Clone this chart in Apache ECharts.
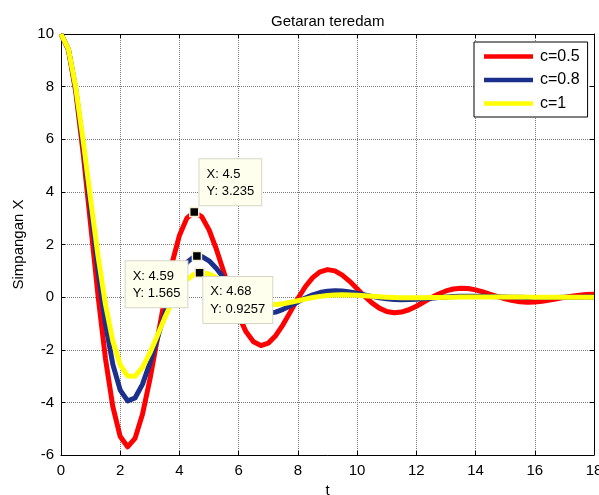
<!DOCTYPE html>
<html><head><meta charset="utf-8">
<script src="https://cdn.jsdelivr.net/npm/echarts@6/dist/echarts.min.js"></script>
<style>html,body{margin:0;padding:0;background:#fff}#c{width:599px;height:495px}</style>
</head><body><div id="c"></div>
<script>
const tValues = [0,0.25,0.5,0.75,1,1.25,1.5,1.75,2,2.25,2.5,2.75,3,3.25,3.5,3.75,4,4.25,4.5,4.75,5,5.25,5.5,5.75,6,6.25,6.5,6.75,7,7.25,7.5,7.75,8,8.25,8.5,8.75,9,9.25,9.5,9.75,10,10.25,10.5,10.75,11,11.25,11.5,11.75,12,12.25,12.5,12.75,13,13.25,13.5,13.75,14,14.25,14.5,14.75,15,15.25,15.5,15.75,16,16.25,16.5,16.75,17,17.25,17.5,17.75,18];
const red05 = [10.000,9.406,7.789,5.455,2.762,0.064,-2.325,-4.162,-5.300,-5.688,-5.368,-4.462,-3.144,-1.615,-0.078,1.288,2.343,3.002,3.234,3.063,2.556,1.811,0.943,0.068,-0.713,-1.319,-1.700,-1.839,-1.748,-1.464,-1.043,-0.551,-0.052,0.394,0.742,0.963,1.046,0.997,0.838,0.601,0.321,0.037,-0.218,-0.418,-0.545,-0.595,-0.569,-0.480,-0.346,-0.187,-0.026,0.120,0.235,0.309,0.338,0.325,0.275,0.199,0.109,0.017,-0.066,-0.132,-0.175,-0.192,-0.185,-0.157,-0.115,-0.064,-0.011,0.036,0.074,0.099,0.109];
const blue08 = [10.000,9.421,7.890,5.753,3.358,1.021,-1.008,-2.555,-3.536,-3.942,-3.833,-3.314,-2.517,-1.583,-0.640,0.203,0.871,1.320,1.540,1.547,1.379,1.087,0.727,0.350,0.002,-0.283,-0.485,-0.595,-0.619,-0.569,-0.465,-0.327,-0.177,-0.035,0.085,0.174,0.228,0.246,0.233,0.197,0.145,0.086,0.028,-0.022,-0.061,-0.086,-0.097,-0.095,-0.082,-0.063,-0.040,-0.017,0.004,0.021,0.032,0.038,0.038,0.034,0.027,0.018,0.009,0.000,-0.007,-0.012,-0.015,-0.015,-0.014,-0.012,-0.008,-0.005,-0.001,0.002,0.004];
const yellow1 = [10.000,9.430,7.954,5.934,3.711,1.573,-0.263,-1.665,-2.574,-3.001,-3.004,-2.678,-2.131,-1.472,-0.797,-0.185,0.313,0.666,0.868,0.930,0.877,0.740,0.552,0.345,0.146,-0.025,-0.155,-0.240,-0.279,-0.279,-0.249,-0.198,-0.137,-0.074,-0.017,0.029,0.062,0.081,0.087,0.082,0.069,0.051,0.032,0.014,-0.002,-0.014,-0.022,-0.026,-0.026,-0.023,-0.018,-0.013,-0.007,-0.002,0.003,0.006,0.008,0.008,0.008,0.006,0.005,0.003,0.001,0.000,-0.001,-0.002,-0.002,-0.002,-0.002,-0.002,-0.001,-0.001,0.000];
const seriesNames = ['c=0.5','c=0.8','c=1'];
const tipX = [4.5, 4.59, 4.68];
const tipY = [3.235, 1.565, 0.9257];
const xTicks = [0,2,4,6,8,10,12,14,16,18];
const yTicks = [-6,-4,-2,0,2,4,6,8,10];

const FONT = '"Liberation Sans", Arial, sans-serif';
const colors = ['#ff0000', '#1b2f8c', '#ffff00'];
const dataSets = [red05, blue08, yellow1];

function pairs(ys){ return tValues.map((t,i)=>[t, ys[i]]); }

const tipLabelPos = [
  [10.5,-47.5],
  [-66,10.5],
  [9,9.5]
];

const lineSeries = dataSets.map((d,i)=>({
  name: seriesNames[i], type:'line', data: pairs(d), showSymbol:false, symbol:'none',
  lineStyle:{color:colors[i], width:5, join:'round'}, itemStyle:{color:colors[i]},
  z: 2+i, silent:true, animation:false
}));

const tipSeries = {
  type:'scatter', z: 10, silent:true, animation:false,
  symbol:'rect', symbolSize:9,
  itemStyle:{color:'#000', borderColor:'#f3f0d0', borderWidth:1.5, opacity:1},
  data: tipX.map((x,i)=>({
    value:[x, tipY[i]],
    label:{
      show:true, formatter:'X: '+x+'\nY: '+tipY[i],
      position: tipLabelPos[i], align:'left', verticalAlign:'top',
      backgroundColor:'#ffffee', borderColor:'#d6d6c6', borderWidth:1,
      padding:[6,7,5,7], fontSize:13, lineHeight:17.5, color:'#000', fontFamily: FONT
    }
  }))
};

const chart = echarts.init(document.getElementById('c'), null, {renderer:'canvas'});
const gridLine = {show:true, lineStyle:{color:'#7a7a7a', width:1, type:[1,1]}};
chart.setOption({
  animation:false,
  backgroundColor:'#fff',
  title:{text:'Getaran teredam', left:266, top:9, textStyle:{fontSize:15, fontWeight:'normal', color:'#000', fontFamily:FONT}},
  grid:{left:61, right:5, top:34, bottom:40, show:false, containLabel:false, outerBoundsMode:'none'},
  legend:{
    orient:'vertical', left:474, top:42, padding:[6,8,5,10], itemGap:6.5,
    itemWidth:49, itemHeight:4.5, icon:'rect', borderColor:'#000', borderWidth:1,
    backgroundColor:'#fff', selectedMode:false,
    textStyle:{fontSize:16, lineHeight:17, color:'#000', fontFamily:FONT, padding:[0,0,0,2]},
    data: seriesNames.map((n,i)=>({name:n, itemStyle:{color:colors[i]}}))
  },
  xAxis:[
    {type:'value', min:xTicks[0], max:xTicks[xTicks.length-1], interval:2, position:'bottom',
     name:'t', nameLocation:'middle', nameGap:28, nameTextStyle:{fontSize:15, color:'#000', fontFamily:FONT},
     axisLine:{show:true, onZero:false, lineStyle:{color:'#000', width:1}},
     axisTick:{show:true, inside:true, length:4, lineStyle:{color:'#000'}},
     axisLabel:{fontSize:15, color:'#000', margin:8, fontFamily:FONT},
     splitLine:gridLine},
    {type:'value', min:xTicks[0], max:xTicks[xTicks.length-1], interval:2, position:'top',
     axisLine:{show:true, onZero:false, lineStyle:{color:'#000', width:1}},
     axisTick:{show:true, inside:true, length:4, lineStyle:{color:'#000'}},
     axisLabel:{show:false}, splitLine:{show:false}}
  ],
  yAxis:[
    {type:'value', min:yTicks[0], max:yTicks[yTicks.length-1], interval:2, position:'left',
     name:'Simpangan X', nameLocation:'middle', nameGap:34, nameTextStyle:{fontSize:15, color:'#000', fontFamily:FONT},
     axisLine:{show:true, onZero:false, lineStyle:{color:'#000', width:1}},
     axisTick:{show:true, inside:true, length:4, lineStyle:{color:'#000'}},
     axisLabel:{fontSize:15, color:'#000', margin:7, fontFamily:FONT},
     splitLine:gridLine},
    {type:'value', min:yTicks[0], max:yTicks[yTicks.length-1], interval:2, position:'right',
     axisLine:{show:true, onZero:false, lineStyle:{color:'#000', width:1}},
     axisTick:{show:true, inside:true, length:4, lineStyle:{color:'#000'}},
     axisLabel:{show:false}, splitLine:{show:false}}
  ],
  series: lineSeries.concat([tipSeries])
});
</script></body></html>
